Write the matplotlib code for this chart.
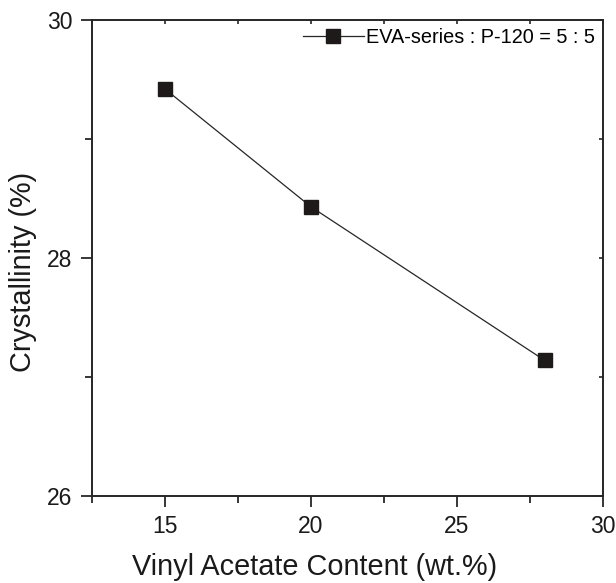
import matplotlib.pyplot as plt
from matplotlib.ticker import MultipleLocator

plt.rcParams['font.family'] = ['Liberation Sans', 'DejaVu Sans']

# vinyl acetate content (wt.%) and crystallinity (%)
va_content = [15, 20, 28]
crystallinity = [29.42, 28.43, 27.14]
series_label = 'EVA-series : P-120 = 5 : 5'

ink = '#262626'

fig = plt.figure(figsize=(6.16, 5.83), dpi=100)
ax = fig.add_axes([0.1494, 0.1492, 0.8295, 0.8165])

ax.plot(va_content, crystallinity, color=ink, lw=0.9, marker='s', ms=9.5,
        mfc='#1e1a1a', mec='#1e1a1a', label=series_label)

ax.set_xlim(12.5, 30)
ax.set_ylim(26, 30)
ax.xaxis.set_major_locator(MultipleLocator(5))
ax.xaxis.set_minor_locator(MultipleLocator(2.5))
ax.yaxis.set_major_locator(MultipleLocator(2))
ax.yaxis.set_minor_locator(MultipleLocator(1))

for sp in ax.spines.values():
    sp.set_linewidth(1.4)
    sp.set_color(ink)

ax.tick_params(which='major', direction='out', length=8, width=1.3, color=ink,
               labelsize=16.5, pad=6, labelcolor='#1a1a1a')
ax.tick_params(which='minor', direction='out', length=5, width=1.3, color=ink)

# small inward ticks on the top and right edges
top = ax.secondary_xaxis('top')
top.xaxis.set_major_locator(MultipleLocator(2.5))
top.tick_params(direction='in', length=3, width=1.2, color=ink, labeltop=False)
top.spines['top'].set_visible(False)
right = ax.secondary_yaxis('right')
right.yaxis.set_major_locator(MultipleLocator(1))
right.tick_params(direction='in', length=3, width=1.2, color=ink, labelright=False)
right.spines['right'].set_visible(False)

ax.set_xlabel('Vinyl Acetate Content (wt.%)', fontsize=20.8, color='#1a1a1a')
ax.set_ylabel('Crystallinity (%)', fontsize=20.8, color='#1a1a1a')
ax.xaxis.set_label_coords(0.435, -0.12)
ax.yaxis.set_label_coords(-0.108, 0.47)

ax.legend(loc='upper right', frameon=False, fontsize=14.3, handlelength=3.1,
          handletextpad=0.1, borderaxespad=0.2, borderpad=0.2)

fig.savefig('out.png', dpi=100)
